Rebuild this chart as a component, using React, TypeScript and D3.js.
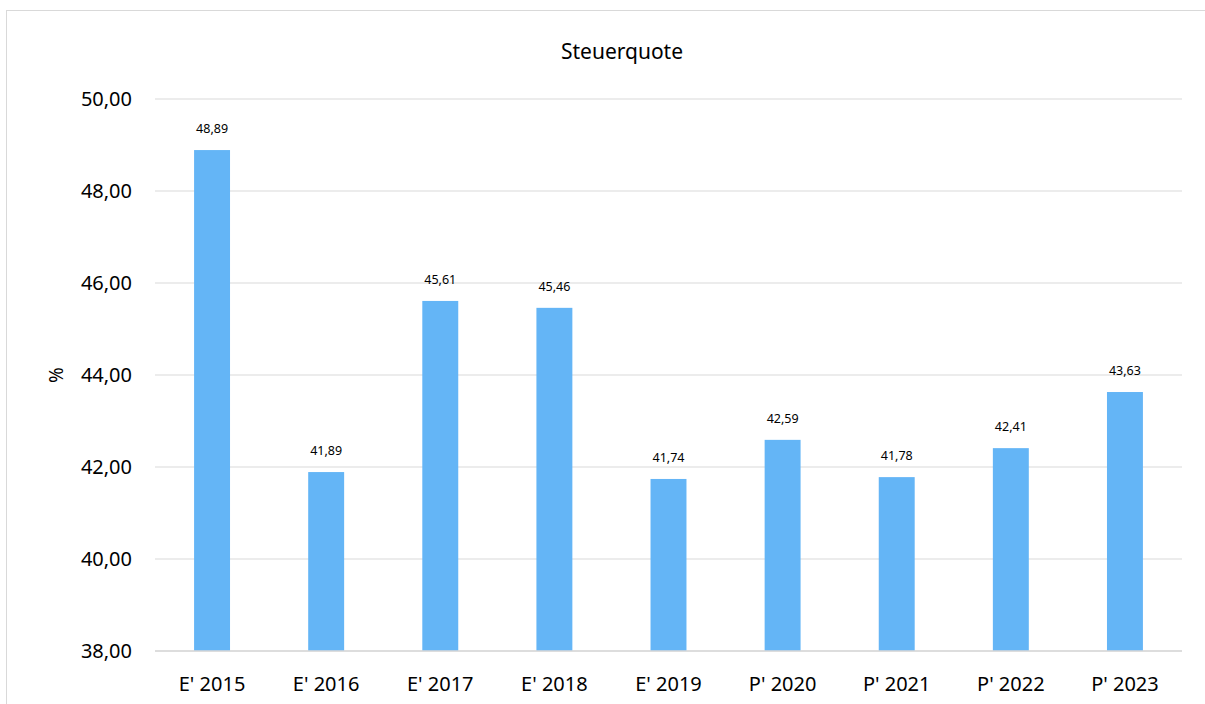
import * as React from 'react';
import * as d3 from 'd3';

const categories = ["E' 2015", "E' 2016", "E' 2017", "E' 2018", "E' 2019", "P' 2020", "P' 2021", "P' 2022", "P' 2023"];
const values = [48.89, 41.89, 45.61, 45.46, 41.74, 42.59, 41.78, 42.41, 43.63];
const yTicks = [38, 40, 42, 44, 46, 48, 50];
const title = 'Steuerquote';
const yLabel = '%';

const fmt = (v: number) => v.toFixed(2).replace('.', ',');

export default function App() {
  const width = 1205;
  const height = 704;
  const plot = {left: 155, right: 1182, top: 99, bottom: 651};
  const font = '"Noto Sans", "Open Sans", sans-serif';

  const x = d3.scaleBand().domain(categories).range([plot.left, plot.right]);
  const y = d3.scaleLinear().domain([38, 50]).range([plot.bottom, plot.top]);
  const barW = x.bandwidth() * 0.315;

  return (
    <svg width={width} height={height} style={{position: 'absolute', left: 0, top: 0, background: '#fff'}}>
      <rect x={6.5} y={10.5} width={1220} height={720} fill="#fff" stroke="#d9d9d9" strokeWidth={1} />
      <text x={622} y={59} textAnchor="middle" fontSize={21} fontFamily={font} fill="#000">{title}</text>
      {yTicks.map(t => (
        <g key={t}>
          <line x1={plot.left} x2={plot.right} y1={y(t)} y2={y(t)} stroke="#d9d9d9" strokeWidth={1} />
          <text x={132} y={y(t)} dy="0.35em" textAnchor="end" fontSize={20} fontFamily={font} fill="#000">{fmt(t)}</text>
        </g>
      ))}
      <text transform={`translate(63,${y(44)}) rotate(-90)`} textAnchor="middle" fontSize={19} fontFamily={font} fill="#000">{yLabel}</text>
      {values.map((v, i) => {
        const cx = (x(categories[i]) as number) + x.bandwidth() / 2;
        return (
          <g key={categories[i]}>
            <rect x={cx - barW / 2} y={y(v)} width={barW} height={y(38) - y(v)} fill="#64b5f6" />
            <text x={cx} y={y(v) - 17} textAnchor="middle" fontSize={12.5} fontFamily={font} fill="#000">{fmt(v)}</text>
            <text x={cx} y={684} dy="0.35em" textAnchor="middle" fontSize={20} fontFamily={font} fill="#000">{categories[i]}</text>
          </g>
        );
      })}
      <line x1={plot.left} x2={plot.right} y1={y(38)} y2={y(38)} stroke="#d9d9d9" strokeWidth={1.5} />
    </svg>
  );
}
